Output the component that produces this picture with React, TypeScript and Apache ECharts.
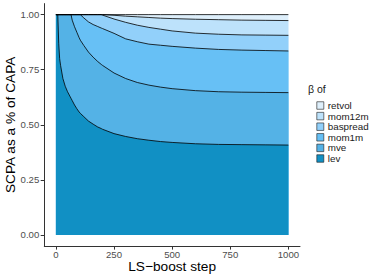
import React, { useEffect, useRef } from 'react';
import * as echarts from 'echarts';

// LS-boost steps (x)
const steps = [0, 8, 12, 16, 20, 30, 40, 50, 60, 65, 70, 80, 90, 100, 105, 120, 140, 160, 180, 195, 200, 250, 300, 350, 400, 450, 500, 600, 700, 800, 900, 1000];

// Upper boundary (cumulative share) of each layer
const levTop = [1, 1, 0.87, 0.8, 0.77, 0.71, 0.675, 0.65, 0.63, 0.62, 0.61, 0.59, 0.573, 0.558, 0.552, 0.537, 0.517, 0.503, 0.49, 0.483, 0.48, 0.46, 0.447, 0.437, 0.43, 0.424, 0.42, 0.414, 0.411, 0.41, 0.409, 0.408];
const mveTop = [1, 1, 1, 1, 1, 1, 1, 1, 1, 1, 0.975, 0.945, 0.92, 0.895, 0.884, 0.86, 0.83, 0.807, 0.787, 0.774, 0.77, 0.735, 0.71, 0.692, 0.68, 0.671, 0.664, 0.655, 0.65, 0.648, 0.647, 0.646];
const mom1mTop = [1, 1, 1, 1, 1, 1, 1, 1, 1, 1, 1, 1, 1, 1, 1, 0.985, 0.967, 0.955, 0.946, 0.939, 0.937, 0.915, 0.89, 0.877, 0.866, 0.861, 0.856, 0.848, 0.842, 0.839, 0.837, 0.835];
const baspreadTop = [1, 1, 1, 1, 1, 1, 1, 1, 1, 1, 1, 1, 1, 1, 1, 1, 1, 1, 1, 1, 0.998, 0.98, 0.965, 0.952, 0.942, 0.934, 0.926, 0.916, 0.911, 0.908, 0.907, 0.906];
const mom12mTop = [1, 1, 1, 1, 1, 1, 1, 1, 1, 1, 1, 1, 1, 1, 1, 1, 1, 1, 1, 1, 1, 0.997, 0.993, 0.99, 0.987, 0.984, 0.982, 0.979, 0.977, 0.975, 0.974, 0.973];
const retvolTop = [1, 1, 1, 1, 1, 1, 1, 1, 1, 1, 1, 1, 1, 1, 1, 1, 1, 1, 1, 1, 1, 1, 1, 1, 1, 1, 1, 1, 1, 1, 1, 1];

const layerNames = ['retvol', 'mom12m', 'baspread', 'mom1m', 'mve', 'lev'];
const layerTops = [retvolTop, mom12mTop, baspreadTop, mom1mTop, mveTop, levTop];
const layerColors = ['#DEEFFB', '#BDE2FB', '#92D0FA', '#67C0F5', '#54B2E6', '#1190C4'];

const xTicks = [0, 250, 500, 750, 1000];
const yTicks = [0, 0.25, 0.5, 0.75, 1];

const FONT = '"Liberation Sans", Arial, Helvetica, sans-serif';

export default function App() {
  const ref = useRef<HTMLDivElement>(null);
  useEffect(() => {
    if (!ref.current) return;
    const chart = echarts.init(ref.current, undefined, { renderer: 'svg' });
    chart.setOption({
      animation: false,
      backgroundColor: '#ffffff',
      textStyle: { fontFamily: FONT },
      grid: { left: 44.3, top: 3.6, width: 255.7, height: 242.4, containLabel: false, outerBoundsMode: 'none' },
      xAxis: {
        type: 'value',
        min: -50,
        max: 1050,
        name: 'LS\u2212boost step',
        nameLocation: 'middle',
        nameGap: 13,
        nameMoveOverlap: false,
        nameTextStyle: { fontSize: 13.7, color: '#000', fontFamily: FONT },
        axisLine: { show: true, onZero: false, lineStyle: { color: '#333', width: 1 } },
        axisTick: { show: true, customValues: xTicks, length: 3.6, lineStyle: { color: '#333', width: 1 } },
        axisLabel: {
          customValues: xTicks,
          color: '#4d4d4d',
          fontSize: 9.6,
          margin: 3.5,
          fontFamily: FONT,
          formatter: (v: number) => String(v),
        },
        splitLine: { show: false },
      },
      yAxis: {
        type: 'value',
        min: -0.05,
        max: 1.05,
        name: 'SCPA as a % of CAPA',
        nameLocation: 'middle',
        nameGap: 27,
        nameMoveOverlap: false,
        nameTextStyle: { fontSize: 13.7, color: '#000', fontFamily: FONT },
        axisLine: { show: true, onZero: false, lineStyle: { color: '#333', width: 1 } },
        axisTick: { show: true, customValues: yTicks, length: 3.6, lineStyle: { color: '#333', width: 1 } },
        axisLabel: {
          customValues: yTicks,
          color: '#4d4d4d',
          fontSize: 9.6,
          margin: 5,
          fontFamily: FONT,
          formatter: (v: number) => v.toFixed(2),
        },
        splitLine: { show: false },
      },
      legend: {
        orient: 'vertical',
        left: 316.5,
        top: 100.5,
        padding: 0,
        itemWidth: 7,
        itemHeight: 7.5,
        itemGap: 0.6,
        icon: 'rect',
        data: layerNames,
        textStyle: { fontSize: 9.8, color: '#1a1a1a', lineHeight: 8, padding: [0, 0, 0, -1], fontFamily: FONT },
        itemStyle: { borderColor: '#1a1a1a', borderWidth: 0.6 },
        selectedMode: false,
      },
      graphic: [
        {
          type: 'text',
          left: 308,
          top: 83,
          style: { text: '\u03b2 of', fontSize: 10.5, fill: '#1a1a1a', fontFamily: FONT },
        },
      ],
      series: layerNames.map((name, k) => ({
        name,
        type: 'line',
        data: steps.map((s, i) => [s, layerTops[k][i]]),
        showSymbol: false,
        symbol: 'none',
        silent: true,
        lineStyle: { color: '#000', width: 0.8 },
        itemStyle: { color: layerColors[k] },
        areaStyle: { color: layerColors[k], opacity: 1 },
      })),
    });
    return () => chart.dispose();
  }, []);
  return (
    <div
      ref={ref}
      style={{ position: 'absolute', left: 0, top: 0, width: 382, height: 279 }}
    />
  );
}
